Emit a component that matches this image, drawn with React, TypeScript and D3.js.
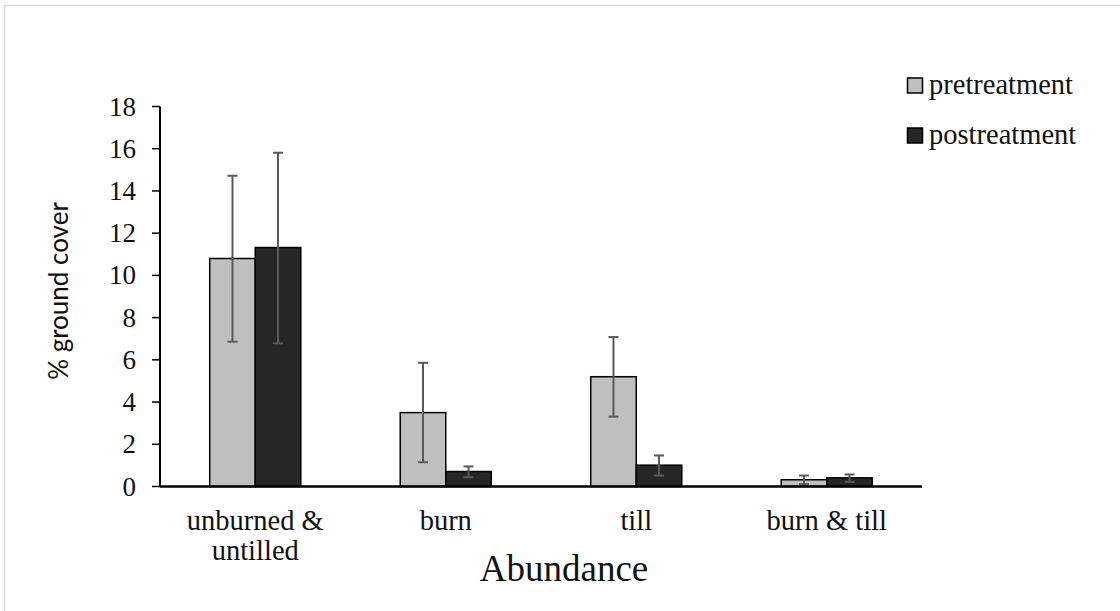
import { useRef, useEffect } from 'react';
import * as d3 from 'd3';

// data
const categories = ['unburned & untilled', 'burn', 'till', 'burn & till'];
const categoryLines = [['unburned &', 'untilled'], ['burn'], ['till'], ['burn & till']];
const seriesNames = ['pretreatment', 'postreatment'];
const preValues = [10.8, 3.5, 5.2, 0.32];
const preErrLow = [6.86, 1.15, 3.31, 0.11];
const preErrHigh = [14.72, 5.86, 7.08, 0.52];
const postValues = [11.32, 0.71, 1.01, 0.41];
const postErrLow = [6.78, 0.44, 0.52, 0.22];
const postErrHigh = [15.81, 0.95, 1.47, 0.57];
const yTicks = [0, 2, 4, 6, 8, 10, 12, 14, 16, 18];
const colors = ['#bfbfbf', '#262626'];

export default function App() {
  const svgRef = useRef<SVGSVGElement>(null);

  useEffect(() => {
    const W = 1120, H = 611;
    const margin = { top: 106.5, left: 160, right: 198, bottom: 124.5 };
    const width = W - margin.left - margin.right;
    const height = H - margin.top - margin.bottom;

    const svg = d3.select(svgRef.current).html('')
      .attr('width', W).attr('height', H);

    // chart border
    svg.append('rect')
      .attr('x', 4.5).attr('y', 5.5)
      .attr('width', W + 20).attr('height', H + 20)
      .attr('fill', 'white').attr('stroke', '#d9d9d9').attr('stroke-width', 1.5);

    const g = svg.append('g').attr('transform', `translate(${margin.left},${margin.top})`);

    const x = d3.scaleBand().domain(categories).range([0, width]).padding(0);
    const y = d3.scaleLinear().domain([0, 18]).range([height, 0]);
    const barW = x.bandwidth() * 0.239;

    // y ticks + labels
    g.selectAll('.tick')
      .data(yTicks)
      .enter()
      .append('line')
      .attr('x1', -8).attr('x2', 0)
      .attr('y1', d => y(d)).attr('y2', d => y(d))
      .attr('stroke', 'black').attr('stroke-width', 1.5);

    g.selectAll('.ylab')
      .data(yTicks)
      .enter()
      .append('text')
      .attr('x', -24)
      .attr('y', d => y(d) + 9)
      .attr('text-anchor', 'end')
      .attr('font-family', '"Liberation Serif", "Times New Roman", serif')
      .attr('font-size', 27)
      .attr('fill', '#111')
      .text(d => d);

    const series = [
      { vals: preValues, lo: preErrLow, hi: preErrHigh },
      { vals: postValues, lo: postErrLow, hi: postErrHigh },
    ];

    series.forEach((s, si) => {
      const bx = (i: number) => x(categories[i])! + x.bandwidth() / 2 - barW + si * barW;
      g.selectAll(`.bar${si}`)
        .data(s.vals)
        .enter()
        .append('rect')
        .attr('x', (d, i) => bx(i))
        .attr('y', d => y(d))
        .attr('width', barW)
        .attr('height', d => height - y(d))
        .attr('fill', colors[si])
        .attr('stroke', 'black')
        .attr('stroke-width', 1.5);
    });

    // error bars
    series.forEach((s, si) => {
      s.vals.forEach((v, i) => {
        const cx = x(categories[i])! + x.bandwidth() / 2 - barW + si * barW + barW / 2;
        const eg = g.append('g').attr('stroke', '#595959').attr('stroke-width', 2);
        eg.append('line').attr('x1', cx).attr('x2', cx).attr('y1', y(s.lo[i])).attr('y2', y(s.hi[i]));
        eg.append('line').attr('x1', cx - 5).attr('x2', cx + 5).attr('y1', y(s.lo[i])).attr('y2', y(s.lo[i]));
        eg.append('line').attr('x1', cx - 5).attr('x2', cx + 5).attr('y1', y(s.hi[i])).attr('y2', y(s.hi[i]));
      });
    });

    // axes lines
    g.append('line').attr('x1', 0).attr('x2', 0).attr('y1', 0).attr('y2', height)
      .attr('stroke', 'black').attr('stroke-width', 2);
    g.append('line').attr('x1', 0).attr('x2', width).attr('y1', height).attr('y2', height)
      .attr('stroke', 'black').attr('stroke-width', 2.5);

    // category labels
    categories.forEach((c, i) => {
      const t = g.append('text')
        .attr('text-anchor', 'middle')
        .attr('font-family', '"Liberation Serif", "Times New Roman", serif')
        .attr('font-size', 28.5)
        .attr('fill', '#111');
      categoryLines[i].forEach((line, li) => {
        t.append('tspan')
          .attr('x', x(c)! + x.bandwidth() / 2)
          .attr('y', height + 43.5 + li * 30)
          .text(line);
      });
    });

    // axis titles
    svg.append('text')
      .attr('x', 564)
      .attr('y', 581)
      .attr('text-anchor', 'middle')
      .attr('font-family', '"Liberation Serif", "Times New Roman", serif')
      .attr('font-size', 37)
      .attr('fill', '#111')
      .text('Abundance');

    svg.append('text')
      .attr('transform', `translate(68, 291) rotate(-90)`)
      .attr('text-anchor', 'middle')
      .attr('font-family', 'Lato, "Open Sans", sans-serif')
      .attr('font-size', 26)
      .attr('fill', '#111')
      .text('% ground cover');

    // legend
    seriesNames.forEach((name, i) => {
      const ly = 78 + i * 50;
      svg.append('rect')
        .attr('x', 907.5).attr('y', ly)
        .attr('width', 15).attr('height', 15)
        .attr('fill', colors[i]).attr('stroke', 'black').attr('stroke-width', 1.5);
      svg.append('text')
        .attr('x', 929).attr('y', ly + 16)
        .attr('font-family', '"Liberation Serif", "Times New Roman", serif')
        .attr('font-size', 28.5)
        .attr('fill', '#111')
        .text(name);
    });
  }, []);

  return (
    <svg ref={svgRef} style={{ position: 'absolute', left: 0, top: 0 }} />
  );
}
